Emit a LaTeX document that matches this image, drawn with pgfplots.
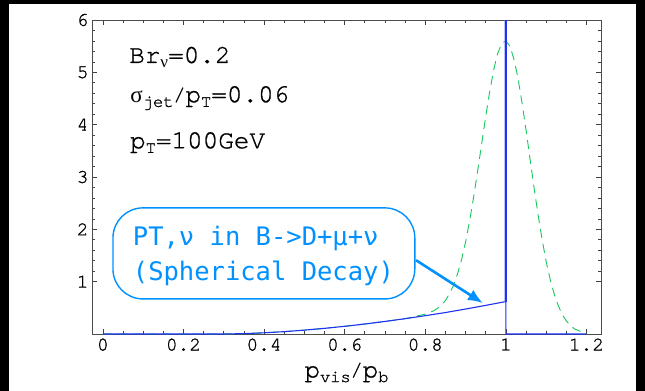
\documentclass[border=0pt]{standalone}
\usepackage{pgfplots}
\pgfplotsset{compat=1.18}
\usepackage{fontspec}
\usetikzlibrary{arrows.meta}
\setmainfont{TeX Gyre Cursor}
\newfontfamily\cour[FakeBold=1.0]{TeX Gyre Cursor}
\newfontfamily\grk{Liberation Serif}
\newfontfamily\msans{DejaVu Sans Mono}
\definecolor{curveblue}{RGB}{30,50,240}
\definecolor{annblue}{RGB}{0,145,255}
\definecolor{dgreen}{RGB}{20,200,90}
\newcommand\bigfont{\fontsize{26bp}{30bp}\selectfont\cour}
\newcommand\sub[1]{\raisebox{-0.18em}{\fontsize{17bp}{17bp}\selectfont #1}}
\begin{document}
\begin{tikzpicture}
\fill[black] (-92bp,-57bp) rectangle (553bp,334bp);
\fill[white] (-83bp,-57bp) rectangle (544bp,330bp);
\begin{axis}[
  at={(0,0)}, anchor=south west,
  scale only axis, width=509bp, height=314bp,
  xmin=-0.027, xmax=1.236, ymin=0, ymax=6,
  axis line style={draw=black!70, line width=0.9bp},
  tick align=inside,
  major tick length=5bp, minor tick length=3bp,
  every tick/.style={black!75, line width=0.7bp},
  xtick={0,0.2,0.4,0.6,0.8,1,1.2},
  xticklabels={0,0.2,0.4,0.6,0.8,1,1.2},
  minor x tick num=3,
  ytick={1,2,3,4,5,6},
  yticklabels={1,2,3,4,5,6},
  minor y tick num=4,
  tick label style={font=\fontsize{19.5bp}{22bp}\selectfont\cour},
  xticklabel style={yshift=-1bp},
  xlabel={\bigfont p\sub{vis}\raisebox{0.05em}{\fontsize{20bp}{20bp}\selectfont/}p\sub{b}},
  xlabel style={yshift=-5bp},
  clip=true,
]
% green dashed
\addplot[dgreen, line width=0.9bp, dash pattern=on 9bp off 6bp] coordinates {
(0,0) (0.3,0) (0.35,0.007) (0.4,0.023) (0.45,0.045) (0.5,0.074) (0.55,0.108)
(0.6,0.147) (0.65,0.191) (0.7,0.24) (0.75,0.293)
(0.80,0.38) (0.81,0.41) (0.82,0.44) (0.83,0.49) (0.84,0.55) (0.85,0.64)
(0.86,0.77) (0.87,0.93) (0.88,1.15) (0.89,1.42) (0.90,1.76) (0.91,2.16)
(0.92,2.62) (0.93,3.12) (0.94,3.64) (0.95,4.16) (0.96,4.64) (0.97,5.06)
(0.98,5.37) (0.99,5.56) (1.00,5.60) (1.01,5.50) (1.02,5.25) (1.03,4.89)
(1.04,4.42) (1.05,3.90) (1.06,3.34) (1.07,2.79) (1.08,2.27) (1.09,1.80)
(1.10,1.38) (1.11,1.04) (1.12,0.76) (1.13,0.54) (1.14,0.37) (1.15,0.25)
(1.16,0.16) (1.17,0.10) (1.18,0.064) (1.19,0.037) (1.20,0.021)
};
% blue continuum
\addplot[curveblue, line width=1.1bp] coordinates {
(0,0) (0.3,0) (0.35,0.007) (0.4,0.023) (0.45,0.045) (0.5,0.074) (0.55,0.108)
(0.6,0.147) (0.65,0.191) (0.7,0.24) (0.75,0.293) (0.8,0.35) (0.85,0.41)
(0.9,0.477) (0.95,0.547) (1.0,0.62) (1.0,0) (1.2,0)
};
% delta spike
\addplot[curveblue!60, line width=3.2bp, opacity=0.5] coordinates {(1.0,0.62) (1.0,6.5)};
\addplot[curveblue, line width=2bp] coordinates {(1.0,0.62) (1.0,6.5)};
% text
\node[anchor=base west, inner sep=0] at (axis cs:0.065,5.18)
  {\bigfont Br\sub{\grk\fontsize{17bp}{17bp}\selectfont ν}=0.2};
\node[anchor=base west, inner sep=0] at (axis cs:0.068,4.43)
  {\bigfont{\grk\fontsize{23bp}{23bp}\selectfont σ}\sub{jet}\raisebox{0.05em}{\fontsize{20bp}{20bp}\selectfont/}p\sub{T}=0.06};
\node[anchor=base west, inner sep=0] at (axis cs:0.067,3.55)
  {\bigfont p\sub{T}=100GeV};
% annotation box
\draw[annblue, line width=1.4bp, rounded corners=30bp]
  (axis cs:0.025,0.67) rectangle (axis cs:0.774,2.41);
\node[anchor=base west, inner sep=0, text=annblue, font=\fontsize{25.5bp}{30bp}\selectfont\msans]
  at (axis cs:0.074,1.70) {PT,ν in B->D+μ+ν};
\node[anchor=base west, inner sep=0, text=annblue, font=\fontsize{25.5bp}{30bp}\selectfont\msans]
  at (axis cs:0.074,1.03) {(Spherical Decay)};
\draw[annblue, line width=2.6bp, -{Latex[length=15bp,width=12bp]}]
  (axis cs:0.777,1.41) -- (axis cs:0.943,0.59);
\end{axis}
\pgfresetboundingbox
\path[use as bounding box] (-92bp,-57bp) rectangle (553bp,334bp);
\end{tikzpicture}
\end{document}
